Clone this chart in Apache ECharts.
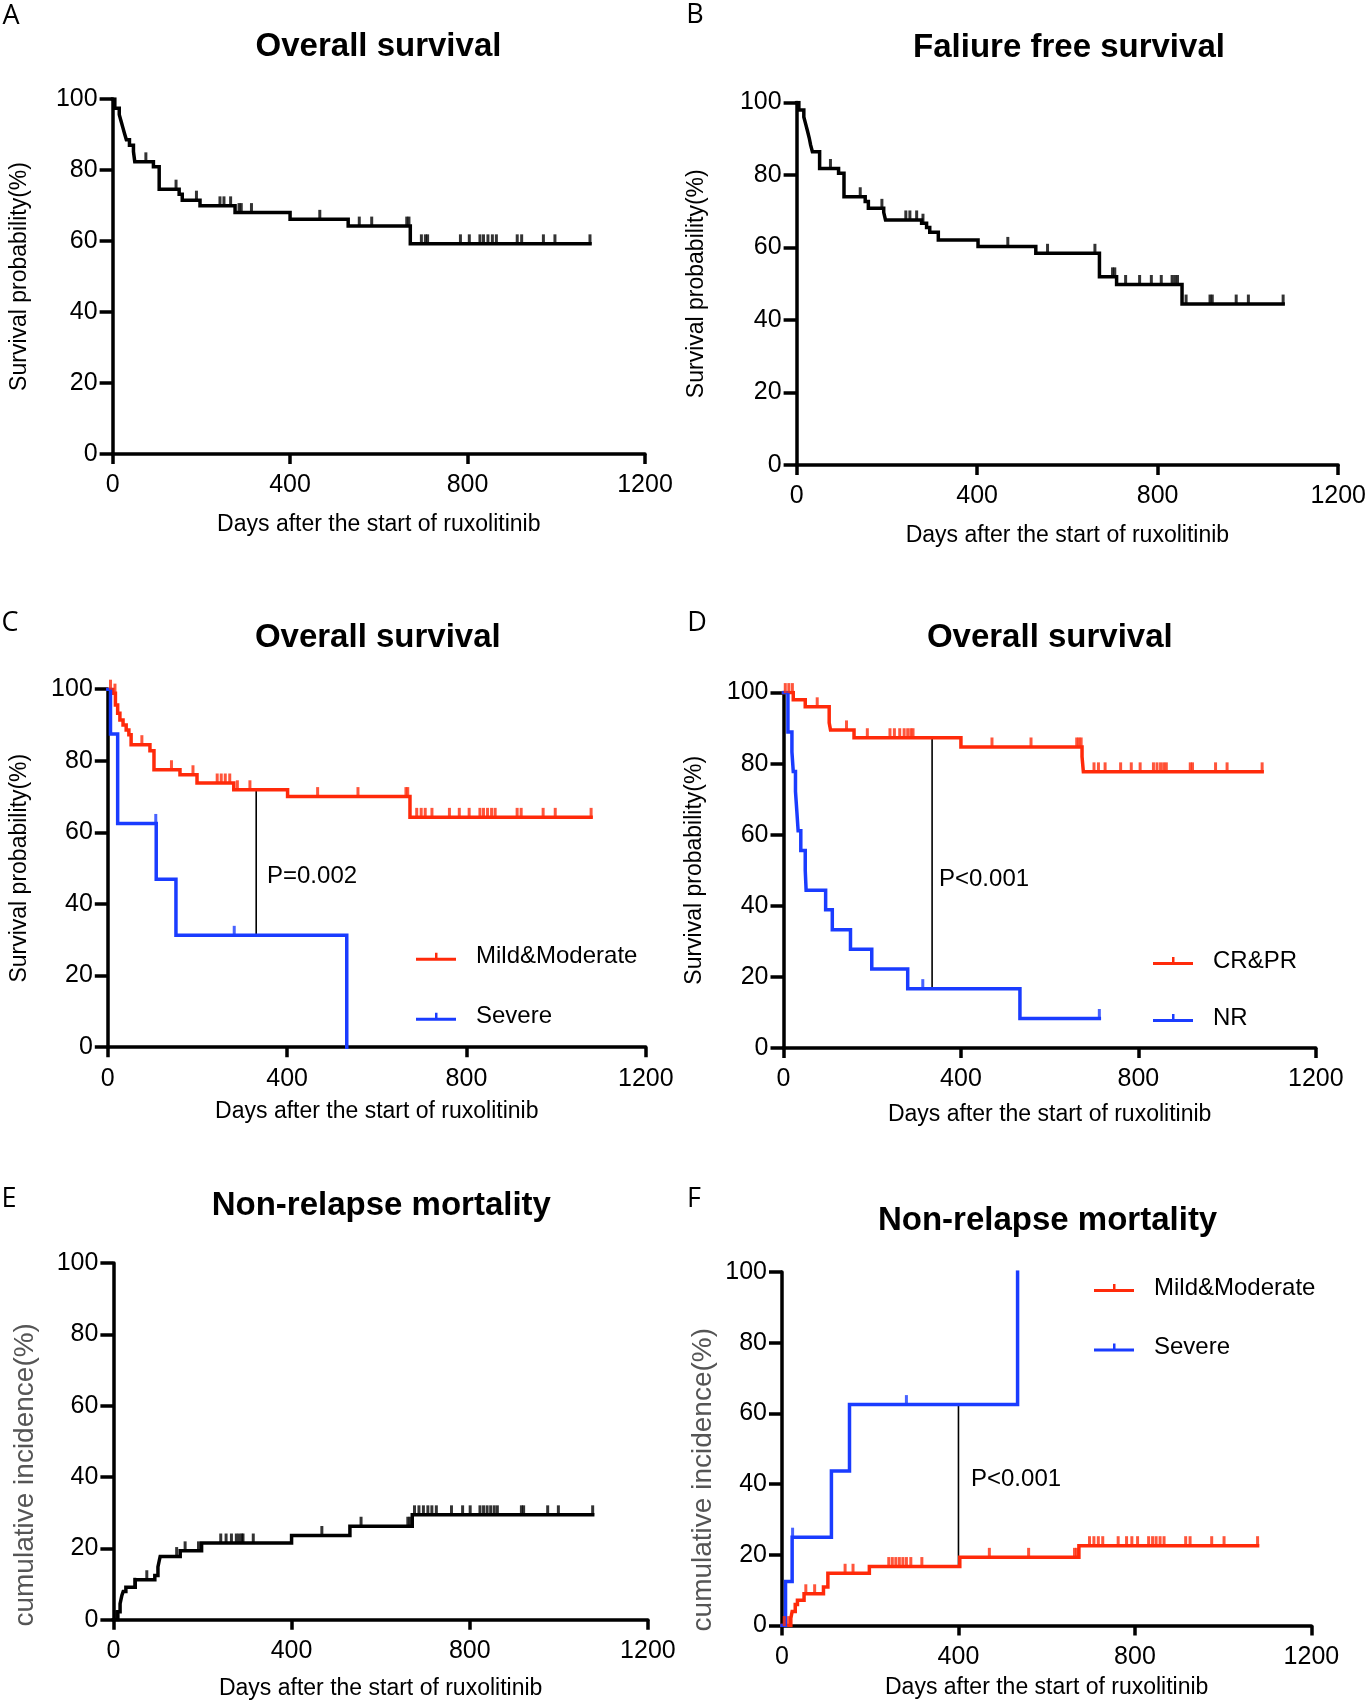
<!DOCTYPE html>
<html>
<head>
<meta charset="utf-8" />
<title>ECharts</title>
<script src="https://cdn.jsdelivr.net/npm/echarts@6/dist/echarts.min.js"></script>
<style>
  body { margin: 0; background: #fff; }
  #main { width: 1369px; height: 1707px; }
</style>
</head>
<body>
<div id="main"></div>
<script type="text/javascript">
// axis ticks shared by every panel
var xTicks = [0, 400, 800, 1200];
var yTicks = [0, 20, 40, 60, 80, 100];

// A: overall survival, all patients
var aTime = [0, 5, 15, 19, 23, 27, 31, 38, 47, 50, 92, 105, 150, 157, 197, 276, 400, 531, 671];
var aSurv = [100, 97.4, 95.6, 93.8, 92.0, 90.2, 88.5, 87.0, 85.2, 82.3, 80.9, 74.6, 73.2, 71.5, 69.9, 68.0, 66.1, 64.2, 59.2];
var aEnd = 1076;
var aCensor = [75, 143, 189, 242, 251, 266, 285, 290, 313, 467, 556, 584, 663, 668, 696, 705, 710, 784, 804, 828, 836, 846, 856, 865, 912, 922, 971, 997, 1076];

// B: failure free survival
var bTime = [0, 5, 16, 20, 24, 28, 31, 35, 51, 93, 105, 152, 159, 193, 197, 277, 288, 295, 314, 402, 530, 671, 709, 854];
var bSurv = [100, 97.9, 96.0, 94.1, 92.2, 90.2, 88.3, 86.4, 81.8, 80.5, 74.0, 72.7, 70.8, 69.7, 67.6, 66.7, 65.5, 64.2, 62.1, 60.3, 58.4, 51.9, 49.8, 44.4];
var bEnd = 1078;
var bCensor = [75, 141, 189, 242, 251, 266, 280, 468, 556, 661, 700, 705, 729, 760, 786, 808, 832, 838, 844, 863, 916, 921, 974, 1001, 1078];

// C: overall survival by severity
var cMildTime = [0, 11, 17, 22, 27, 34, 41, 47, 52, 94, 103, 161, 199, 281, 401, 674];
var cMildSurv = [100, 98.9, 95.6, 93.3, 91.4, 90.0, 88.6, 87.3, 84.5, 82.8, 77.5, 76.1, 73.8, 71.9, 70.0, 64.2];
var cMildEnd = 1078;
var cMildCensor = [6, 16, 76, 142, 190, 244, 253, 262, 272, 289, 317, 468, 558, 665, 669, 689, 699, 708, 723, 762, 784, 806, 830, 838, 847, 856, 864, 913, 922, 971, 998, 1078];
var cSevTime = [0, 6, 22, 108, 152, 533];
var cSevSurv = [100, 87.5, 62.5, 46.9, 31.25, 0];
var cSevCensor = [107, 282];
var cPLine = [[331, 71.9], [331, 31.25]];

// D: overall survival by response
var dRespTime = [0, 22, 49, 103, 106, 159, 400, 673, 676];
var dRespSurv = [100, 98.0, 96.0, 91.5, 89.5, 87.3, 84.7, 82.0, 77.7];
var dRespEnd = 1079;
var dRespCensor = [4, 12, 20, 76, 142, 189, 240, 250, 262, 272, 280, 287, 292, 470, 558, 661, 666, 671, 700, 710, 725, 760, 784, 804, 834, 842, 850, 857, 863, 917, 922, 974, 1000, 1079];
var dNrTime = [0, 10, 19, 22, 27, 30, 33, 39, 49, 51, 95, 110, 151, 199, 280, 533];
var dNrSurv = [100, 88.9, 83.3, 77.8, 72.2, 66.7, 61.1, 55.6, 50.0, 44.4, 38.9, 33.3, 27.8, 22.2, 16.7, 8.3];
var dNrEnd = 712;
var dNrCensor = [314, 712];
var dPLine = [[335, 87.3], [335, 16.7]];

// E: non-relapse mortality, all patients
var eTime = [0, 10, 15, 19, 22, 28, 49, 93, 100, 103, 105, 150, 198, 400, 531, 671];
var eInc = [0, 2.2, 4.5, 6.8, 7.9, 9.1, 11.2, 12.4, 14.8, 16.6, 17.7, 19.3, 21.5, 23.6, 26.2, 29.4];
var eEnd = 1076;
var eCensor = [6, 48, 75, 142, 161, 191, 241, 253, 265, 276, 282, 288, 291, 314, 468, 556, 661, 666, 676, 686, 696, 706, 715, 725, 759, 784, 801, 823, 831, 839, 847, 855, 862, 916, 921, 975, 999, 1076];

// F: non-relapse mortality by severity
var fMildTime = [0, 20, 23, 30, 35, 50, 94, 104, 198, 403, 673];
var fMildInc = [0, 2.0, 4.0, 6.0, 7.2, 9.0, 10.9, 14.8, 16.7, 19.3, 22.6];
var fMildEnd = 1078;
var fMildCensor = [5, 15, 54, 74, 143, 161, 242, 250, 258, 266, 274, 282, 292, 317, 470, 559, 663, 668, 697, 707, 717, 727, 762, 781, 793, 806, 831, 840, 848, 857, 866, 915, 925, 974, 1002, 1078];
var fSevTime = [0, 8, 23, 112, 153, 534];
var fSevInc = [0, 12.5, 25, 43.75, 62.5, 100];
var fSevCensor = [24, 282];
var fPLine = [[400, 62.5], [400, 16.7]];

var RED = '#ff2a0a';
var BLUE = '#1a3cff';
var BLACK = '#000';
var FONT = 'Liberation Sans';

function stepData(time, val, end) {
    var d = time.map(function (t, i) { return [t, val[i]]; });
    if (end != null && end > time[time.length - 1]) d.push([end, val[val.length - 1]]);
    return d;
}
function valueAt(time, val, t) {
    var v = val[0];
    for (var i = 0; i < time.length; i++) if (time[i] <= t) v = val[i];
    return v;
}
function censorData(time, val, cens) {
    return cens.map(function (t) { return [t, valueAt(time, val, t)]; });
}

var panels = [
    { grid: { left: 112.6, top: 99, width: 532.4, height: 355 }, yName: 'Survival probability(%)', yGap: 81.5, xGap: 59.5,
      curves: [{ name: 'A', time: aTime, val: aSurv, end: aEnd, cens: aCensor, color: BLACK }] },
    { grid: { left: 796.6, top: 102.5, width: 544, height: 362.5 }, yName: 'Survival probability(%)', yGap: 88, xGap: 59.5,
      curves: [{ name: 'B', time: bTime, val: bSurv, end: bEnd, cens: bCensor, color: BLACK }] },
    { grid: { left: 107.8, top: 689.2, width: 538, height: 358 }, yName: 'Survival probability(%)', yGap: 76.7, xGap: 53,
      curves: [{ name: 'Mild&Moderate', time: cMildTime, val: cMildSurv, end: cMildEnd, cens: cMildCensor, color: RED },
               { name: 'Severe', time: cSevTime, val: cSevSurv, end: null, cens: cSevCensor, color: BLUE }],
      pLine: cPLine },
    { grid: { left: 783.5, top: 692.6, width: 532.3, height: 355.4 }, yName: 'Survival probability(%)', yGap: 77, xGap: 55.5,
      curves: [{ name: 'CR&PR', time: dRespTime, val: dRespSurv, end: dRespEnd, cens: dRespCensor, color: RED },
               { name: 'NR', time: dNrTime, val: dNrSurv, end: dNrEnd, cens: dNrCensor, color: BLUE }],
      pLine: dPLine },
    { grid: { left: 113.4, top: 1263, width: 534.5, height: 356.7 }, yName: '', yGap: 0, xGap: 57,
      curves: [{ name: 'E', time: eTime, val: eInc, end: eEnd, cens: eCensor, color: BLACK }] },
    { grid: { left: 782, top: 1272, width: 529.4, height: 353.6 }, yName: '', yGap: 0, xGap: 51,
      curves: [{ name: 'Mild&Moderate', time: fMildTime, val: fMildInc, end: fMildEnd, cens: fMildCensor, color: RED },
               { name: 'Severe', time: fSevTime, val: fSevInc, end: null, cens: fSevCensor, color: BLUE }],
      pLine: fPLine }
];

var grids = [], xAxes = [], yAxes = [], series = [];
panels.forEach(function (p, i) {
    grids.push(p.grid);
    xAxes.push({
        type: 'value', gridIndex: i,
        min: xTicks[0], max: xTicks[xTicks.length - 1], interval: xTicks[1] - xTicks[0],
        name: 'Days after the start of ruxolitinib', nameLocation: 'middle', nameGap: p.xGap,
        nameTextStyle: { fontFamily: FONT, fontSize: 23, color: '#000' },
        axisLine: { show: true, onZero: false, lineStyle: { color: '#000', width: 3.5 } },
        axisTick: { show: true, length: 10, lineStyle: { color: '#000', width: 3.5 } },
        axisLabel: { margin: 19, fontFamily: FONT, fontSize: 25, color: '#000',
                     formatter: function (v) { return String(v); } },
        splitLine: { show: false }
    });
    yAxes.push({
        type: 'value', gridIndex: i,
        min: yTicks[0], max: yTicks[yTicks.length - 1], interval: yTicks[1] - yTicks[0],
        name: p.yName, nameLocation: 'middle', nameGap: p.yGap,
        nameTextStyle: { fontFamily: FONT, fontSize: 23, color: '#000' },
        axisLine: { show: true, onZero: false, lineStyle: { color: '#000', width: 3.5 } },
        axisTick: { show: true, length: 13, lineStyle: { color: '#000', width: 3.5 } },
        axisLabel: { margin: 15, fontFamily: FONT, fontSize: 25, color: '#000',
                     formatter: function (v) { return String(v); } },
        splitLine: { show: false }
    });
    p.curves.forEach(function (c) {
        series.push({
            name: c.name, type: 'line', xAxisIndex: i, yAxisIndex: i,
            step: 'end', showSymbol: false, symbol: 'none', animation: false,
            color: c.color,
            lineStyle: { color: c.color, width: 3.5, join: 'miter', cap: 'square' },
            data: stepData(c.time, c.val, c.end), z: 3
        });
        series.push({
            name: c.name + ' censored', type: 'scatter', xAxisIndex: i, yAxisIndex: i,
            symbol: 'rect', symbolSize: [3, 10], symbolOffset: [0, -4.5],
            itemStyle: { color: c.color }, animation: false, silent: true,
            data: censorData(c.time, c.val, c.cens), z: 4
        });
    });
    if (p.pLine) {
        series.push({
            name: 'p' + i, type: 'line', xAxisIndex: i, yAxisIndex: i,
            showSymbol: false, symbol: 'none', animation: false, silent: true,
            lineStyle: { color: '#000', width: 1.6 }, data: p.pLine, z: 2
        });
    }
});

var legendIcon = 'path://M0,5L40,5L40,8L0,8Z M19,0L21.5,0L21.5,8L19,8Z';
function makeLegend(names, left, top, gap) {
    return {
        orient: 'vertical', left: left, top: top, padding: 0, itemGap: gap,
        itemWidth: 40, itemHeight: 8, selectedMode: false,
        textStyle: { fontFamily: FONT, fontSize: 24, color: '#000', padding: [0, 0, 0, 15] },
        data: names.map(function (n) { return { name: n, icon: legendIcon }; })
    };
}

function txt(x, y, text, font, opts) {
    opts = opts || {};
    return {
        type: 'text', x: x, y: y, rotation: opts.rotation || 0, silent: true,
        style: {
            text: text, font: font, fill: opts.fill || '#000',
            align: opts.align || 'center', textAlign: opts.align || 'center',
            verticalAlign: 'middle', textVerticalAlign: 'middle'
        }
    };
}
var titleFont = 'bold 33px "Liberation Sans"';
var panelFont = '27px "Open Sans"';
var pFont = '24px "Liberation Sans"';

var graphics = [
    txt(11, 16, 'A', panelFont), txt(695, 15, 'B', panelFont),
    txt(10, 623, 'C', panelFont), txt(697, 623, 'D', panelFont),
    txt(9, 1199, 'E', panelFont), txt(694, 1199, 'F', panelFont),
    txt(378.5, 46.5, 'Overall survival', titleFont),
    txt(1069, 48, 'Faliure free survival', titleFont),
    txt(377.8, 638, 'Overall survival', titleFont),
    txt(1049.8, 638, 'Overall survival', titleFont),
    txt(381.3, 1206, 'Non-relapse mortality', titleFont),
    txt(1047.6, 1221, 'Non-relapse mortality', titleFont),
    txt(267, 876.5, 'P=0.002', pFont, { align: 'left' }),
    txt(939, 879, 'P<0.001', pFont, { align: 'left' }),
    txt(971, 1479, 'P<0.001', pFont, { align: 'left' }),
    txt(25, 1474.8, 'cumulative incidence(%)', '28px "Liberation Sans"', { rotation: Math.PI / 2, fill: '#555' }),
    txt(703.6, 1479.7, 'cumulative incidence(%)', '28px "Liberation Sans"', { rotation: Math.PI / 2, fill: '#555' })
];

var myChart = echarts.init(document.getElementById('main'), null, { renderer: 'canvas' });
myChart.setOption({
    backgroundColor: '#fff',
    animation: false,
    grid: grids,
    xAxis: xAxes,
    yAxis: yAxes,
    legend: [
        makeLegend(['Mild&Moderate', 'Severe'], 416, 944.7, 36),
        makeLegend(['CR&PR', 'NR'], 1153, 949, 33),
        makeLegend(['Mild&Moderate', 'Severe'], 1094, 1276, 35.6)
    ],
    series: series,
    graphic: graphics
});
</script>
</body>
</html>
